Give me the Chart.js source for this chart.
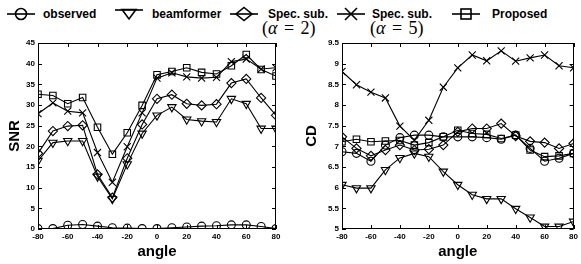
<!DOCTYPE html>
<html>
<head>
<meta charset="utf-8">
<script src="https://cdn.jsdelivr.net/npm/chart.js@4/dist/chart.umd.min.js"></script>
<style>
html,body{margin:0;padding:0;background:#fff;}
#wrap{position:relative;width:581px;height:264px;overflow:hidden;}
.lg{position:absolute;font:bold 12px "Liberation Sans",Arial,sans-serif;line-height:16px;color:#000;white-space:nowrap;}
.ic{position:absolute;}
.math{position:absolute;font:18px "Liberation Serif","DejaVu Serif",serif;line-height:20px;color:#000;white-space:nowrap;word-spacing:2px;}
canvas{position:absolute;top:0;}
</style>
</head>
<body>
<div id="wrap">
  <svg class="ic" style="left:7px;top:6px" width="28" height="16"><line x1="0" y1="8" x2="28" y2="8" stroke="#000" stroke-width="1.6"/><circle cx="14" cy="8" r="5.5" fill="none" stroke="#000" stroke-width="1.6"/></svg>
  <span class="lg" style="left:43px;top:6px">observed</span>
  <svg class="ic" style="left:115px;top:6px" width="28" height="16"><line x1="0" y1="4" x2="28" y2="4" stroke="#000" stroke-width="1.6"/><polygon points="7,3.5 21,3.5 14,13" fill="none" stroke="#000" stroke-width="1.6"/></svg>
  <span class="lg" style="left:152px;top:6px">beamformer</span>
  <svg class="ic" style="left:230px;top:6px" width="28" height="16"><line x1="0" y1="8" x2="28" y2="8" stroke="#000" stroke-width="1.6"/><polygon points="14,1.5 22,8 14,14.5 6,8" fill="none" stroke="#000" stroke-width="1.6"/></svg>
  <span class="lg" style="left:268px;top:6px">Spec. sub.</span>
  <span class="math" style="left:262px;top:18px">(<i>α</i> = 2)</span>
  <svg class="ic" style="left:337px;top:6px" width="28" height="16"><line x1="0" y1="8" x2="28" y2="8" stroke="#000" stroke-width="1.6"/><line x1="8" y1="2" x2="20" y2="14" stroke="#000" stroke-width="1.6"/><line x1="20" y1="2" x2="8" y2="14" stroke="#000" stroke-width="1.6"/></svg>
  <span class="lg" style="left:372px;top:6px">Spec. sub.</span>
  <span class="math" style="left:370px;top:18px">(<i>α</i> = 5)</span>
  <svg class="ic" style="left:452px;top:6px" width="28" height="16"><line x1="0" y1="8" x2="28" y2="8" stroke="#000" stroke-width="1.6"/><rect x="9" y="3" width="10" height="10" fill="none" stroke="#000" stroke-width="1.6"/></svg>
  <span class="lg" style="left:492px;top:6px">Proposed</span>
  <canvas id="c1" style="left:0px" width="290" height="264"></canvas>
  <canvas id="c2" style="left:290px" width="291" height="264"></canvas>
</div>
<script>
// ---- data ----
const angles = [-80,-70,-60,-50,-40,-30,-20,-10,0,10,20,30,40,50,60,70,80];
const seriesNames = ['observed','beamformer','Spec. sub. (α=2)','Spec. sub. (α=5)','Proposed'];

const snrObserved   = [0.1,0.1,0.9,1.1,0.7,0.3,0.2,0.1,0.1,0.3,0.5,0.7,0.8,1.0,1.0,0.6,0.1];
const snrBeamformer = [16.5,20.9,21.3,21.3,12.7,7.3,15.7,23.1,27.5,29.5,26.5,26.1,25.9,31.5,30.3,24.3,24.3];
const snrSpec2      = [18.3,23.7,24.9,25.1,13.2,7.6,17.1,25.3,31.5,32.5,30.3,29.9,30.2,35.3,36.3,31.7,27.5];
const snrSpec5      = [27.9,30.5,28.5,28.1,18.5,11.3,19.9,28.1,36.5,37.8,36.8,36.5,36.7,40.5,41.1,38.7,39.0];
const snrProposed   = [32.6,32.3,30.3,31.8,24.6,18.1,23.3,29.9,37.3,38.1,39.0,37.9,37.5,39.5,42.2,38.6,37.0];

const cdObserved   = [6.87,6.83,6.64,7.03,7.21,7.27,7.27,7.23,7.23,7.23,7.21,7.17,7.27,6.95,6.64,6.71,6.83];
const cdBeamformer = [6.07,5.99,5.99,6.43,6.72,6.83,6.75,6.39,6.07,5.83,5.73,5.73,5.49,5.28,5.06,5.06,5.18];
const cdSpec2      = [7.23,6.95,6.77,6.91,7.03,6.91,6.93,7.03,7.35,7.43,7.43,7.55,7.25,7.12,7.09,6.95,7.07];
const cdSpec5      = [8.81,8.49,8.31,8.17,7.49,7.15,7.63,8.43,8.90,9.21,9.07,9.31,9.06,9.14,9.21,8.95,8.90];
const cdProposed   = [7.11,7.17,7.11,7.13,7.14,7.03,7.09,7.23,7.39,7.31,7.29,7.19,7.27,6.91,6.75,6.77,6.83];

// ---- styles ----
const markers = [
  {pointStyle:'circle', pointRadius:4, pointRotation:0},
  {pointStyle:'triangle', pointRadius:4.8, pointRotation:180},
  {pointStyle:'rectRot', pointRadius:4.6, pointRotation:0},
  {pointStyle:'crossRot', pointRadius:5, pointRotation:0},
  {pointStyle:'rect', pointRadius:4.6, pointRotation:0}
];

function makeDatasets(arrs){
  return arrs.map((vals,i)=>Object.assign({
    label: seriesNames[i],
    data: angles.map((a,j)=>({x:a,y:vals[j]})),
    borderColor:'#000',
    borderWidth:1.1,
    backgroundColor:'rgba(0,0,0,0)',
    pointBorderColor:'#000',
    pointBackgroundColor:'rgba(0,0,0,0)',
    pointBorderWidth:1.1,
    tension:0
  }, markers[i]));
}

const boxTicks = {
  id:'boxTicks',
  afterDraw(chart){
    const {ctx, chartArea:a, scales:{x,y}} = chart;
    ctx.save();
    ctx.strokeStyle='#000'; ctx.lineWidth=1;
    ctx.strokeRect(Math.round(a.left)+0.5, Math.round(a.top)+0.5, Math.round(a.right-a.left)-1, Math.round(a.bottom-a.top)-1);
    const L=4;
    ctx.beginPath();
    x.ticks.forEach((t,i)=>{
      const px=Math.round(x.getPixelForTick(i))+0.5;
      ctx.moveTo(px,a.bottom); ctx.lineTo(px,a.bottom-L);
      ctx.moveTo(px,a.top); ctx.lineTo(px,a.top+L);
    });
    y.ticks.forEach((t,i)=>{
      const py=Math.round(y.getPixelForTick(i))+0.5;
      ctx.moveTo(a.left,py); ctx.lineTo(a.left+L,py);
      ctx.moveTo(a.right,py); ctx.lineTo(a.right-L,py);
    });
    ctx.stroke();
    ctx.restore();
  }
};

const tickFont = {family:'"Liberation Sans", Arial, sans-serif', size:8, weight:'bold'};
const titleFont = {family:'"Liberation Sans", Arial, sans-serif', size:15, weight:'bold'};
const fmt = v => String(Math.round(v*10)/10);

function makeChart(id, arrs, ymin, ymax, ystep, ytitle, yAxisW, yTitlePad, padRight){
  return new Chart(document.getElementById(id), {
    type:'line',
    data:{datasets: makeDatasets(arrs)},
    options:{
      responsive:false, animation:false, maintainAspectRatio:false,
      layout:{padding:{top:43,right:padRight,left:0,bottom:0}},
      plugins:{legend:{display:false}, tooltip:{enabled:false}},
      scales:{
        x:{type:'linear', min:-80, max:80,
           grid:{display:false, drawTicks:false}, border:{display:false},
           ticks:{stepSize:20, font:tickFont, color:'#000', padding:3, maxRotation:0, autoSkip:false, callback:fmt},
           title:{display:true, text:'angle', font:titleFont, color:'#000', padding:{top:0,bottom:3}},
           afterFit(s){ s.height = 35; }
        },
        y:{type:'linear', min:ymin, max:ymax,
           grid:{display:false, drawTicks:false}, border:{display:false},
           ticks:{stepSize:ystep, font:tickFont, color:'#000', padding:3, autoSkip:false, callback:fmt},
           title:{display:true, text:ytitle, font:titleFont, color:'#000', padding:{top:yTitlePad,bottom:0}},
           afterFit(s){ s.width = yAxisW; }
        }
      }
    },
    plugins:[boxTicks]
  });
}

makeChart('c1', [snrObserved,snrBeamformer,snrSpec2,snrSpec5,snrProposed], 0, 45, 5, 'SNR', 38, 6, 14);
makeChart('c2', [cdObserved,cdBeamformer,cdSpec2,cdSpec5,cdProposed], 5, 9.5, 0.5, 'CD', 52, 13, 2);
</script>
</body>
</html>
